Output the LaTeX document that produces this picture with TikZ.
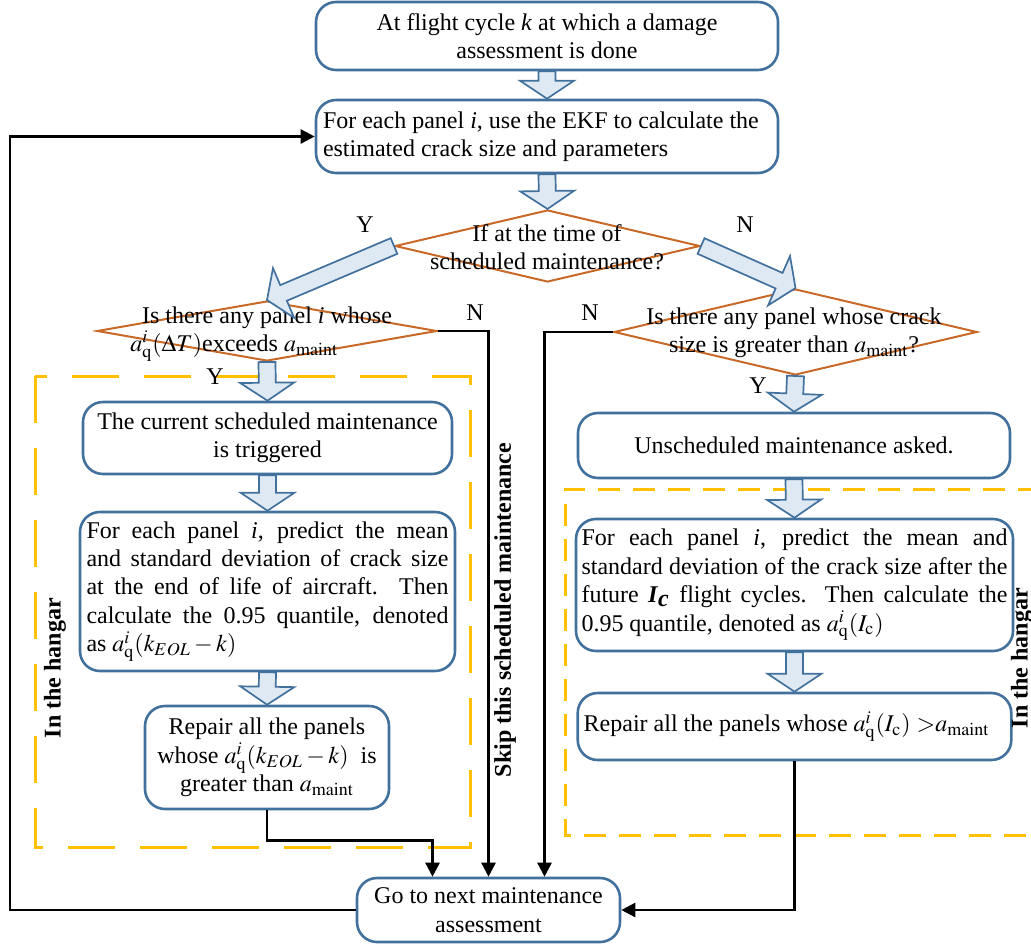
\documentclass[tikz,border=0pt]{standalone}
\usepackage{mathptmx}
\usepackage{fontspec}
\setmainfont{Liberation Serif}
\usetikzlibrary{shapes.geometric,arrows.meta,calc}
\definecolor{bblue}{RGB}{65,113,156}
\definecolor{bfill}{RGB}{222,233,244}
\definecolor{dorange}{RGB}{200,105,40}
\definecolor{hyellow}{RGB}{255,192,0}
\tikzset{
 box/.style={draw=bblue, line width=1.3pt, rounded corners=10pt, fill=white, align=flush center, inner sep=3pt, font=\fontsize{12}{14.2}\selectfont},
 dia/.style={draw=dorange, line width=1pt, shape=diamond, inner sep=0pt},
 txt/.style={font=\fontsize{12}{14.2}\selectfont, inner sep=0pt, align=flush center},
 barrow/.style={draw=bblue, fill=bfill, line width=0.85pt, line join=miter},
 conn/.style={draw=black, line width=1.25pt, -{Triangle[length=7pt,width=7pt]}},
 hangarL/.style={draw=hyellow, line width=1.5pt, dash pattern=on 23.5pt off 12.5pt},
 hangarR/.style={draw=hyellow, line width=1.5pt, dash pattern=on 11pt off 6.5pt},
 side/.style={font=\fontsize{12}{14}\selectfont\bfseries, rotate=90, inner sep=0pt},
}
\newcommand\blockarrow[2]{%
 \coordinate (ba-h) at ($(#2)!9pt!(#1)$);
 \draw[barrow] ($(#1)!4.25pt!90:(#2)$) -- ($(ba-h)!4.25pt!90:(#2)$) -- ($(ba-h)!13.5pt!90:(#2)$) -- (#2) -- ($(ba-h)!13.5pt!-90:(#2)$) -- ($(ba-h)!4.25pt!-90:(#2)$) -- ($(#1)!4.25pt!-90:(#2)$) -- cycle;}
\newcommand\aq{a^{i}_{\mathrm{q}}}
\newcommand\amaint{a_{\mathrm{maint}}}
\begin{document}
\begin{tikzpicture}[x=0.5pt,y=-0.5pt]
\useasboundingbox (0,0) rectangle (1031,947);
% hangar regions
\draw[hangarL] (35,376) rectangle (470,847);
\draw[hangarR] (1040,489) -- (565,489) -- (565,835) -- (1040,835);
% nodes
\node[box, minimum width=231pt, minimum height=34pt] (top) at (547,36)
 {At flight cycle \textit{k} at which a damage\\assessment is done};
\node[box, minimum width=231pt, minimum height=36.5pt, align=flush left, text width=224pt, inner xsep=3.5pt] (ekf) at (547,136.5)
 {For each panel \textit{i}, use the EKF to calculate the\\estimated crack size and parameters};
\node[dia, minimum width=152.5pt, minimum height=36pt] (d1) at (547.5,246) {};
\node[dia, minimum width=170pt, minimum height=30pt] (d2) at (267,331) {};
\node[dia, minimum width=181.5pt, minimum height=43pt] (d3) at (795.5,332) {};
\node[txt] (d1t) at (547,247.5) {If at the time of\\scheduled maintenance?};
\node[txt] (d2a) at (267,318) {Is there any panel \textit{i} whose};
\node[txt, anchor=west] (d2b) at (130,346) {$\aq(\Delta T)$exceeds $\amaint$};
\node[txt] (d3t) at (794,332.5) {Is there any panel whose crack\\size is greater than $\amaint$?};
\node[box, minimum width=184.5pt, minimum height=36pt] (cur) at (267.5,438)
 {The current scheduled maintenance\\is triggered};
\node[box, minimum width=187.5pt, minimum height=79.5pt, align=flush left, text width=181pt, inner xsep=3.25pt] (predL) at (267.5,591.5)
 {\makebox[181pt][s]{For each panel \textit{i}, predict the mean}\\
  \makebox[181pt][s]{and standard deviation of crack size}\\
  \makebox[181pt][s]{at the end of life of aircraft. Then}\\
  \makebox[181pt][s]{calculate the 0.95 quantile, denoted}\\
  as $\aq(k_{EOL}-k)$};
\node[box, minimum width=122pt, minimum height=51.5pt] (repL) at (267,757.5)
 {Repair all the panels\\whose $\aq(k_{EOL}-k)$\ \ is\\greater than $\amaint$};
\node[box, minimum width=216pt, minimum height=32.5pt] (uns) at (794,445.5)
 {Unscheduled maintenance asked.};
\node[box, minimum width=218.5pt, minimum height=66pt, align=flush left, text width=213pt, inner xsep=2.75pt] (predR) at (794.5,585)
 {\makebox[213pt][s]{For each panel \textit{i}, predict the mean and}\\
  \makebox[213pt][s]{standard deviation of the crack size after the}\\
  \makebox[213pt][s]{future \textbf{\textit{I}}$_{\textbf{\textit{c}}}$ flight cycles. Then calculate the}\\
  0.95 quantile, denoted as $\aq(I_{\mathrm{c}})$};
\node[box, minimum width=210.5pt, minimum height=33.5pt] (repR) at (794.5,726.5)
 {Repair all the panels whose $\aq(I_{\mathrm{c}})\ {>}\amaint$\hspace*{8pt}};
\node[box, minimum width=131.5pt, minimum height=32pt] (go) at (488.5,910)
 {Go to next maintenance\\assessment};
% block arrows
\blockarrow{top.south}{ekf.north}
\blockarrow{ekf.south}{d1.north}
\blockarrow{d1.west}{d2.north}
\blockarrow{d1.east}{d3.north}
\blockarrow{d2.south}{cur.north}
\blockarrow{cur.south}{predL.north}
\blockarrow{predL.south}{repL.north}
\blockarrow{d3.south}{uns.north}
\blockarrow{uns.south}{predR.north}
\blockarrow{predR.south}{repR.north}
% connectors
\coordinate (lb) at (10,910);
\draw[conn] (d2.east) -| (go.north);
\draw[conn] (d3.west) -| ([xshift=28pt]go.north);
\draw[conn] (repL.south) -- ++(0,30) -| ([xshift=-28pt]go.north);
\draw[conn] (repR.south) |- (go.east);
\draw[conn] (go.west) -- (lb) |- (ekf.west);
% labels
\node[txt] (y1) at (365,225) {Y};
\node[txt] (n1) at (745,225) {N};
\node[txt] (n2) at (475,313) {N};
\node[txt] (n3) at (590,313) {N};
\node[txt] (y2) at (215,377) {Y};
\node[txt] (y3) at (758,386) {Y};
\node[side] (hL) at (55,668) {In the hangar};
\node[side] (skip) at (505,610) {Skip this scheduled maintenance};
\node[side] (hR) at (1022,658) {In the hangar};
\end{tikzpicture}
\end{document}
